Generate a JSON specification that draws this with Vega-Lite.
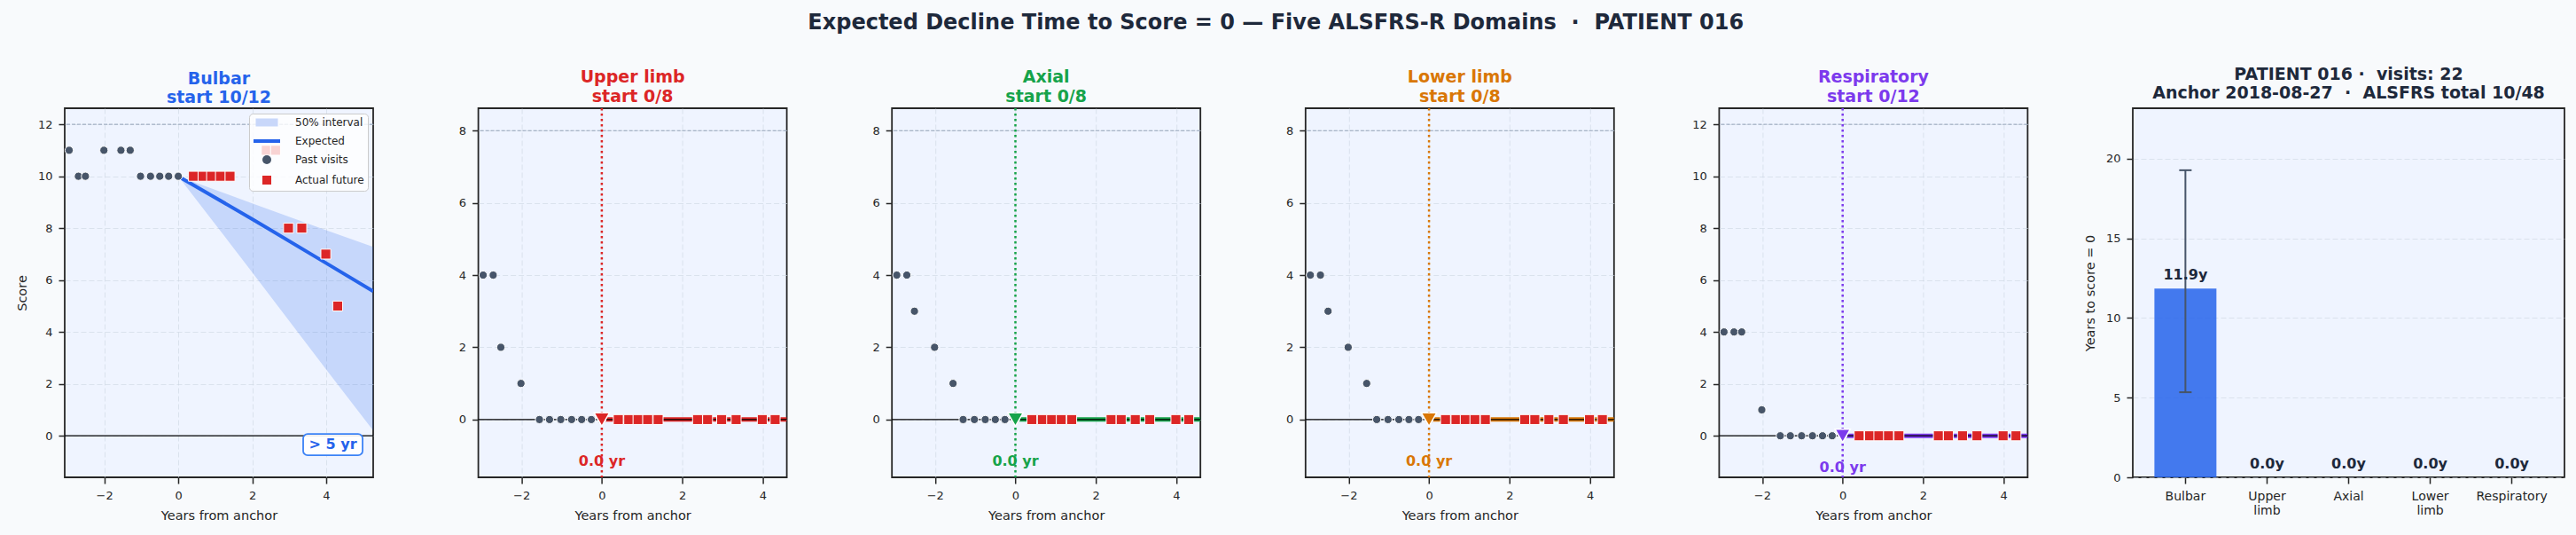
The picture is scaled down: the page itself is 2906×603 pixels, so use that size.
{
  "$schema": "https://vega.github.io/schema/vega-lite/v6.json",
  "background": "#f8fafc",
  "padding": {"left": 16, "top": 14, "right": 15, "bottom": 20},
  "title": {"text": "Expected Decline Time to Score = 0 — Five ALSFRS-R Domains\u00a0 ·\u00a0 PATIENT 016", "fontSize": 24, "fontWeight": "bold", "color": "#1e293b", "anchor": "middle", "offset": 36, "dx": -16, "font": "DejaVu Sans"},
  "datasets": {
    "visits": [
      {"domain": "Bulbar", "t": -2.95, "score": 11, "phase": "past"},
      {"domain": "Bulbar", "t": -2.70, "score": 10, "phase": "past"},
      {"domain": "Bulbar", "t": -2.51, "score": 10, "phase": "past"},
      {"domain": "Bulbar", "t": -2.01, "score": 11, "phase": "past"},
      {"domain": "Bulbar", "t": -1.55, "score": 11, "phase": "past"},
      {"domain": "Bulbar", "t": -1.30, "score": 11, "phase": "past"},
      {"domain": "Bulbar", "t": -1.02, "score": 10, "phase": "past"},
      {"domain": "Bulbar", "t": -0.75, "score": 10, "phase": "past"},
      {"domain": "Bulbar", "t": -0.50, "score": 10, "phase": "past"},
      {"domain": "Bulbar", "t": -0.26, "score": 10, "phase": "past"},
      {"domain": "Bulbar", "t": 0.0, "score": 10, "phase": "past"},
      {"domain": "Bulbar", "t": 0.41, "score": 10, "phase": "future"},
      {"domain": "Bulbar", "t": 0.67, "score": 10, "phase": "future"},
      {"domain": "Bulbar", "t": 0.90, "score": 10, "phase": "future"},
      {"domain": "Bulbar", "t": 1.14, "score": 10, "phase": "future"},
      {"domain": "Bulbar", "t": 1.40, "score": 10, "phase": "future"},
      {"domain": "Bulbar", "t": 2.38, "score": 11, "phase": "future"},
      {"domain": "Bulbar", "t": 2.63, "score": 11, "phase": "future"},
      {"domain": "Bulbar", "t": 2.98, "score": 8, "phase": "future"},
      {"domain": "Bulbar", "t": 3.34, "score": 8, "phase": "future"},
      {"domain": "Bulbar", "t": 3.99, "score": 7, "phase": "future"},
      {"domain": "Bulbar", "t": 4.31, "score": 5, "phase": "future"},

      {"domain": "Upper limb", "t": -2.95, "score": 4, "phase": "past"},
      {"domain": "Upper limb", "t": -2.70, "score": 4, "phase": "past"},
      {"domain": "Upper limb", "t": -2.51, "score": 2, "phase": "past"},
      {"domain": "Upper limb", "t": -2.01, "score": 1, "phase": "past"},
      {"domain": "Upper limb", "t": -1.55, "score": 0, "phase": "past"},
      {"domain": "Upper limb", "t": -1.30, "score": 0, "phase": "past"},
      {"domain": "Upper limb", "t": -1.02, "score": 0, "phase": "past"},
      {"domain": "Upper limb", "t": -0.75, "score": 0, "phase": "past"},
      {"domain": "Upper limb", "t": -0.50, "score": 0, "phase": "past"},
      {"domain": "Upper limb", "t": -0.26, "score": 0, "phase": "past"},
      {"domain": "Upper limb", "t": 0.0, "score": 0, "phase": "past"},
      {"domain": "Upper limb", "t": 0.41, "score": 0, "phase": "future"},
      {"domain": "Upper limb", "t": 0.67, "score": 0, "phase": "future"},
      {"domain": "Upper limb", "t": 0.90, "score": 0, "phase": "future"},
      {"domain": "Upper limb", "t": 1.14, "score": 0, "phase": "future"},
      {"domain": "Upper limb", "t": 1.40, "score": 0, "phase": "future"},
      {"domain": "Upper limb", "t": 2.38, "score": 0, "phase": "future"},
      {"domain": "Upper limb", "t": 2.63, "score": 0, "phase": "future"},
      {"domain": "Upper limb", "t": 2.98, "score": 0, "phase": "future"},
      {"domain": "Upper limb", "t": 3.34, "score": 0, "phase": "future"},
      {"domain": "Upper limb", "t": 3.99, "score": 0, "phase": "future"},
      {"domain": "Upper limb", "t": 4.31, "score": 0, "phase": "future"},

      {"domain": "Axial", "t": -2.95, "score": 4, "phase": "past"},
      {"domain": "Axial", "t": -2.70, "score": 4, "phase": "past"},
      {"domain": "Axial", "t": -2.51, "score": 3, "phase": "past"},
      {"domain": "Axial", "t": -2.01, "score": 2, "phase": "past"},
      {"domain": "Axial", "t": -1.55, "score": 1, "phase": "past"},
      {"domain": "Axial", "t": -1.30, "score": 0, "phase": "past"},
      {"domain": "Axial", "t": -1.02, "score": 0, "phase": "past"},
      {"domain": "Axial", "t": -0.75, "score": 0, "phase": "past"},
      {"domain": "Axial", "t": -0.50, "score": 0, "phase": "past"},
      {"domain": "Axial", "t": -0.26, "score": 0, "phase": "past"},
      {"domain": "Axial", "t": 0.0, "score": 0, "phase": "past"},
      {"domain": "Axial", "t": 0.41, "score": 0, "phase": "future"},
      {"domain": "Axial", "t": 0.67, "score": 0, "phase": "future"},
      {"domain": "Axial", "t": 0.90, "score": 0, "phase": "future"},
      {"domain": "Axial", "t": 1.14, "score": 0, "phase": "future"},
      {"domain": "Axial", "t": 1.40, "score": 0, "phase": "future"},
      {"domain": "Axial", "t": 2.38, "score": 0, "phase": "future"},
      {"domain": "Axial", "t": 2.63, "score": 0, "phase": "future"},
      {"domain": "Axial", "t": 2.98, "score": 0, "phase": "future"},
      {"domain": "Axial", "t": 3.34, "score": 0, "phase": "future"},
      {"domain": "Axial", "t": 3.99, "score": 0, "phase": "future"},
      {"domain": "Axial", "t": 4.31, "score": 0, "phase": "future"},

      {"domain": "Lower limb", "t": -2.95, "score": 4, "phase": "past"},
      {"domain": "Lower limb", "t": -2.70, "score": 4, "phase": "past"},
      {"domain": "Lower limb", "t": -2.51, "score": 3, "phase": "past"},
      {"domain": "Lower limb", "t": -2.01, "score": 2, "phase": "past"},
      {"domain": "Lower limb", "t": -1.55, "score": 1, "phase": "past"},
      {"domain": "Lower limb", "t": -1.30, "score": 0, "phase": "past"},
      {"domain": "Lower limb", "t": -1.02, "score": 0, "phase": "past"},
      {"domain": "Lower limb", "t": -0.75, "score": 0, "phase": "past"},
      {"domain": "Lower limb", "t": -0.50, "score": 0, "phase": "past"},
      {"domain": "Lower limb", "t": -0.26, "score": 0, "phase": "past"},
      {"domain": "Lower limb", "t": 0.0, "score": 0, "phase": "past"},
      {"domain": "Lower limb", "t": 0.41, "score": 0, "phase": "future"},
      {"domain": "Lower limb", "t": 0.67, "score": 0, "phase": "future"},
      {"domain": "Lower limb", "t": 0.90, "score": 0, "phase": "future"},
      {"domain": "Lower limb", "t": 1.14, "score": 0, "phase": "future"},
      {"domain": "Lower limb", "t": 1.40, "score": 0, "phase": "future"},
      {"domain": "Lower limb", "t": 2.38, "score": 0, "phase": "future"},
      {"domain": "Lower limb", "t": 2.63, "score": 0, "phase": "future"},
      {"domain": "Lower limb", "t": 2.98, "score": 0, "phase": "future"},
      {"domain": "Lower limb", "t": 3.34, "score": 0, "phase": "future"},
      {"domain": "Lower limb", "t": 3.99, "score": 0, "phase": "future"},
      {"domain": "Lower limb", "t": 4.31, "score": 0, "phase": "future"},

      {"domain": "Respiratory", "t": -2.95, "score": 4, "phase": "past"},
      {"domain": "Respiratory", "t": -2.70, "score": 4, "phase": "past"},
      {"domain": "Respiratory", "t": -2.51, "score": 4, "phase": "past"},
      {"domain": "Respiratory", "t": -2.01, "score": 1, "phase": "past"},
      {"domain": "Respiratory", "t": -1.55, "score": 0, "phase": "past"},
      {"domain": "Respiratory", "t": -1.30, "score": 0, "phase": "past"},
      {"domain": "Respiratory", "t": -1.02, "score": 0, "phase": "past"},
      {"domain": "Respiratory", "t": -0.75, "score": 0, "phase": "past"},
      {"domain": "Respiratory", "t": -0.50, "score": 0, "phase": "past"},
      {"domain": "Respiratory", "t": -0.26, "score": 0, "phase": "past"},
      {"domain": "Respiratory", "t": 0.0, "score": 0, "phase": "past"},
      {"domain": "Respiratory", "t": 0.41, "score": 0, "phase": "future"},
      {"domain": "Respiratory", "t": 0.67, "score": 0, "phase": "future"},
      {"domain": "Respiratory", "t": 0.90, "score": 0, "phase": "future"},
      {"domain": "Respiratory", "t": 1.14, "score": 0, "phase": "future"},
      {"domain": "Respiratory", "t": 1.40, "score": 0, "phase": "future"},
      {"domain": "Respiratory", "t": 2.38, "score": 0, "phase": "future"},
      {"domain": "Respiratory", "t": 2.63, "score": 0, "phase": "future"},
      {"domain": "Respiratory", "t": 2.98, "score": 0, "phase": "future"},
      {"domain": "Respiratory", "t": 3.34, "score": 0, "phase": "future"},
      {"domain": "Respiratory", "t": 3.99, "score": 0, "phase": "future"},
      {"domain": "Respiratory", "t": 4.31, "score": 0, "phase": "future"}
    ],
    "expected": [
      {"domain": "Bulbar", "t": 0, "mean": 10, "lo": 10, "hi": 10},
      {"domain": "Bulbar", "t": 2, "mean": 8.35, "lo": 6.3, "hi": 8.95},
      {"domain": "Bulbar", "t": 4, "mean": 6.65, "lo": 2.55, "hi": 7.92},
      {"domain": "Bulbar", "t": 5.27, "mean": 5.57, "lo": 0.2, "hi": 7.28},
      {"domain": "Upper limb", "t": 0, "mean": 0},
      {"domain": "Upper limb", "t": 4.6, "mean": 0},
      {"domain": "Axial", "t": 0, "mean": 0},
      {"domain": "Axial", "t": 4.6, "mean": 0},
      {"domain": "Lower limb", "t": 0, "mean": 0},
      {"domain": "Lower limb", "t": 4.6, "mean": 0},
      {"domain": "Respiratory", "t": 0, "mean": 0},
      {"domain": "Respiratory", "t": 4.6, "mean": 0}
    ],
    "summary": [
      {"domain": "Bulbar", "start": 10, "max": 12, "years": 11.85, "lo": 5.34, "hi": 19.27, "tz_label": "> 5 yr", "bar_label": "11.9y"},
      {"domain": "Upper limb", "start": 0, "max": 8, "years": 0, "lo": null, "hi": null, "tz_label": "0.0 yr", "bar_label": "0.0y"},
      {"domain": "Axial", "start": 0, "max": 8, "years": 0, "lo": null, "hi": null, "tz_label": "0.0 yr", "bar_label": "0.0y"},
      {"domain": "Lower limb", "start": 0, "max": 8, "years": 0, "lo": null, "hi": null, "tz_label": "0.0 yr", "bar_label": "0.0y"},
      {"domain": "Respiratory", "start": 0, "max": 12, "years": 0, "lo": null, "hi": null, "tz_label": "0.0 yr", "bar_label": "0.0y"}
    ],
    "legend": [
      {"series": "50% interval"},
      {"series": "Expected"},
      {"series": "Past visits"},
      {"series": "Actual future"}
    ]
  },
  "spacing": 118.6,
  "bounds": "flush",
  "resolve": {"scale": {"color": "independent", "shape": "independent"}, "legend": {"color": "independent", "shape": "independent"}},
  "hconcat": [
    {
      "width": 348, "height": 416,
      "title": {"text": ["Bulbar", "start 10/12"], "color": "#2563eb", "fontSize": 19, "fontWeight": "bold", "lineHeight": 21.5, "baseline": "bottom", "offset": -17, "anchor": "middle"},
      "layer": [
        {"data": {"name": "summary"}, "transform": [{"filter": "datum.domain === 'Bulbar'"}],
         "mark": {"type": "rule", "color": "#94a3b8", "strokeDash": [4, 2], "strokeWidth": 1},
         "encoding": {"y": {"field": "max", "type": "quantitative", "title": "Score", "scale": {"domain": [-1.6, 12.62], "nice": false, "zero": false}, "axis": {"values": [0, 2, 4, 6, 8, 10, 12]}}}},
        {"data": {"name": "summary"}, "transform": [{"filter": "datum.domain === 'Bulbar'"}],
         "mark": {"type": "rule", "color": "#000000", "strokeWidth": 1.2},
         "encoding": {"y": {"datum": 0, "type": "quantitative", "title": "Score"}}},
        {"data": {"name": "expected"}, "transform": [{"filter": "datum.domain === 'Bulbar'"}],
         "mark": {"type": "area", "color": "#2563eb", "opacity": 0.2, "clip": true},
         "encoding": {
           "x": {"field": "t", "type": "quantitative", "title": "Years from anchor", "scale": {"domain": [-3.07, 5.27], "nice": false, "zero": false}, "axis": {"values": [-2, 0, 2, 4]}},
           "y": {"field": "lo", "type": "quantitative", "title": "Score"},
           "y2": {"field": "hi"}}},
        {"data": {"name": "expected"}, "transform": [{"filter": "datum.domain === 'Bulbar'"}],
         "mark": {"type": "line", "color": "#2563eb", "strokeWidth": 4, "clip": true},
         "encoding": {
           "x": {"field": "t", "type": "quantitative", "title": "Years from anchor"},
           "y": {"field": "mean", "type": "quantitative", "title": "Score"}}},
        {"data": {"name": "visits"}, "transform": [{"filter": "datum.domain === 'Bulbar' && datum.phase === 'past'"}],
         "mark": {"type": "point", "shape": "circle", "filled": true, "size": 85, "color": "#475569", "stroke": "white", "strokeWidth": 1, "opacity": 1},
         "encoding": {
           "x": {"field": "t", "type": "quantitative", "title": "Years from anchor"},
           "y": {"field": "score", "type": "quantitative", "title": "Score"}}},
        {"data": {"name": "visits"}, "transform": [{"filter": "datum.domain === 'Bulbar' && datum.phase === 'future'"}],
         "mark": {"type": "point", "shape": "square", "filled": true, "size": 125, "color": "#dc2626", "stroke": "white", "strokeWidth": 1, "opacity": 1},
         "encoding": {
           "x": {"field": "t", "type": "quantitative", "title": "Years from anchor"},
           "y": {"field": "score", "type": "quantitative", "title": "Score"}}},
        {"data": {"name": "summary"}, "transform": [{"filter": "datum.domain === 'Bulbar'"}],
         "mark": {"type": "point", "filled": true, "fill": "white", "fillOpacity": 0.9, "stroke": "#3b82f6", "strokeWidth": 1.8, "size": 4489,
           "shape": "M-0.85,-0.36L0.85,-0.36A0.15,0.15 0 0 1 1,-0.21L1,0.21A0.15,0.15 0 0 1 0.85,0.36L-0.85,0.36A0.15,0.15 0 0 1 -1,0.21L-1,-0.21A0.15,0.15 0 0 1 -0.85,-0.36Z"},
         "encoding": {"x": {"datum": 4.18, "type": "quantitative", "title": "Years from anchor"}, "y": {"datum": -0.34, "type": "quantitative", "title": "Score"}}},
        {"data": {"name": "summary"}, "transform": [{"filter": "datum.domain === 'Bulbar'"}],
         "mark": {"type": "text", "fontWeight": "bold", "fontSize": 16, "color": "#2563eb", "align": "center", "baseline": "middle"},
         "encoding": {"x": {"datum": 4.18, "type": "quantitative", "title": "Years from anchor"}, "y": {"datum": -0.34, "type": "quantitative", "title": "Score"}, "text": {"field": "tz_label"}}},
        {"data": {"name": "legend"},
         "mark": {"type": "point", "filled": true, "opacity": 1, "size": 100, "clip": true},
         "encoding": {
           "x": {"datum": -50, "type": "quantitative", "title": "Years from anchor"},
           "y": {"datum": -50, "type": "quantitative", "title": "Score"},
           "color": {"field": "series", "type": "nominal",
             "scale": {"domain": ["50% interval", "Expected", "Past visits", "Actual future"], "range": ["#c8d7fa", "#2563eb", "#475569", "#dc2626"]},
             "legend": {"title": null, "orient": "top-right", "offset": 6, "padding": 4, "fillColor": "rgba(255,255,255,0.8)", "strokeColor": "#cccccc", "cornerRadius": 4, "labelFontSize": 12, "labelColor": "#262626", "labelFont": "DejaVu Sans", "rowPadding": 7, "symbolSize": 100, "symbolOffset": 10, "labelOffset": 26, "symbolOpacity": 1}},
           "shape": {"field": "series", "type": "nominal",
             "scale": {"domain": ["50% interval", "Expected", "Past visits", "Actual future"], "range": ["M-2.5,-0.9L2.5,-0.9L2.5,0.9L-2.5,0.9Z", "M-3,-0.4L3,-0.4L3,0.4L-3,0.4Z", "circle", "square"]},
             "legend": {"title": null, "orient": "top-right", "offset": 6, "padding": 4, "fillColor": "rgba(255,255,255,0.8)", "strokeColor": "#cccccc", "cornerRadius": 4, "labelFontSize": 12, "labelColor": "#262626", "labelFont": "DejaVu Sans", "rowPadding": 7, "symbolSize": 100, "symbolOffset": 10, "labelOffset": 26, "symbolOpacity": 1}}
         }}
      ]
    },
    {
      "width": 348, "height": 416,
      "title": {"text": ["Upper limb", "start 0/8"], "color": "#dc2626", "fontSize": 19, "fontWeight": "bold", "lineHeight": 21.5, "baseline": "bottom", "offset": -17, "anchor": "middle"},
      "layer": [
        {"data": {"name": "summary"}, "transform": [{"filter": "datum.domain === 'Upper limb'"}],
         "mark": {"type": "rule", "color": "#94a3b8", "strokeDash": [4, 2], "strokeWidth": 1},
         "encoding": {"y": {"field": "max", "type": "quantitative", "title": null, "scale": {"domain": [-1.6, 8.62], "nice": false, "zero": false}, "axis": {"values": [0, 2, 4, 6, 8]}}}},
        {"data": {"name": "expected"}, "transform": [{"filter": "datum.domain === 'Upper limb'"}],
         "mark": {"type": "line", "strokeWidth": 5, "color": "#dc2626", "clip": true},
         "encoding": {"x": {"field": "t", "type": "quantitative", "title": "Years from anchor", "scale": {"domain": [-3.07, 4.6], "nice": false, "zero": false}, "axis": {"values": [-2, 0, 2, 4]}}, "y": {"field": "mean", "type": "quantitative", "title": null}}},
        {"data": {"name": "summary"}, "transform": [{"filter": "datum.domain === 'Upper limb'"}],
         "mark": {"type": "rule", "color": "#000000", "strokeWidth": 1.2},
         "encoding": {"y": {"datum": 0, "type": "quantitative", "title": null}}},
        {"data": {"name": "summary"}, "transform": [{"filter": "datum.domain === 'Upper limb'"}],
         "mark": {"type": "rule", "color": "#dc2626", "strokeDash": [2.5, 3.5], "strokeWidth": 2.5},
         "encoding": {"x": {"field": "years", "type": "quantitative", "title": "Years from anchor"}}},
        {"data": {"name": "visits"}, "transform": [{"filter": "datum.domain === 'Upper limb' && datum.phase === 'past'"}],
         "mark": {"type": "point", "shape": "circle", "filled": true, "size": 85, "color": "#475569", "stroke": "white", "strokeWidth": 1, "opacity": 1},
         "encoding": {"x": {"field": "t", "type": "quantitative", "title": "Years from anchor"}, "y": {"field": "score", "type": "quantitative", "title": null}}},
        {"data": {"name": "visits"}, "transform": [{"filter": "datum.domain === 'Upper limb' && datum.phase === 'future'"}],
         "mark": {"type": "point", "shape": "square", "filled": true, "size": 125, "color": "#dc2626", "stroke": "white", "strokeWidth": 1, "opacity": 1},
         "encoding": {"x": {"field": "t", "type": "quantitative", "title": "Years from anchor"}, "y": {"field": "score", "type": "quantitative", "title": null}}},
        {"data": {"name": "summary"}, "transform": [{"filter": "datum.domain === 'Upper limb'"}],
         "mark": {"type": "point", "shape": "triangle-down", "filled": true, "size": 300, "color": "#dc2626", "stroke": "white", "strokeWidth": 1.5, "opacity": 1},
         "encoding": {"x": {"field": "years", "type": "quantitative", "title": "Years from anchor"}, "y": {"datum": 0, "type": "quantitative", "title": null}}},
        {"data": {"name": "summary"}, "transform": [{"filter": "datum.domain === 'Upper limb'"}],
         "mark": {"type": "text", "fontWeight": "bold", "fontSize": 16, "color": "#dc2626", "align": "center", "baseline": "middle"},
         "encoding": {"x": {"field": "years", "type": "quantitative", "title": "Years from anchor"}, "y": {"datum": -1.17, "type": "quantitative", "title": null}, "text": {"field": "tz_label"}}}
      ]
    },
    {
      "width": 348, "height": 416,
      "title": {"text": ["Axial", "start 0/8"], "color": "#16a34a", "fontSize": 19, "fontWeight": "bold", "lineHeight": 21.5, "baseline": "bottom", "offset": -17, "anchor": "middle"},
      "layer": [
        {"data": {"name": "summary"}, "transform": [{"filter": "datum.domain === 'Axial'"}],
         "mark": {"type": "rule", "color": "#94a3b8", "strokeDash": [4, 2], "strokeWidth": 1},
         "encoding": {"y": {"field": "max", "type": "quantitative", "title": null, "scale": {"domain": [-1.6, 8.62], "nice": false, "zero": false}, "axis": {"values": [0, 2, 4, 6, 8]}}}},
        {"data": {"name": "expected"}, "transform": [{"filter": "datum.domain === 'Axial'"}],
         "mark": {"type": "line", "strokeWidth": 5, "color": "#16a34a", "clip": true},
         "encoding": {"x": {"field": "t", "type": "quantitative", "title": "Years from anchor", "scale": {"domain": [-3.07, 4.6], "nice": false, "zero": false}, "axis": {"values": [-2, 0, 2, 4]}}, "y": {"field": "mean", "type": "quantitative", "title": null}}},
        {"data": {"name": "summary"}, "transform": [{"filter": "datum.domain === 'Axial'"}],
         "mark": {"type": "rule", "color": "#000000", "strokeWidth": 1.2},
         "encoding": {"y": {"datum": 0, "type": "quantitative", "title": null}}},
        {"data": {"name": "summary"}, "transform": [{"filter": "datum.domain === 'Axial'"}],
         "mark": {"type": "rule", "color": "#16a34a", "strokeDash": [2.5, 3.5], "strokeWidth": 2.5},
         "encoding": {"x": {"field": "years", "type": "quantitative", "title": "Years from anchor"}}},
        {"data": {"name": "visits"}, "transform": [{"filter": "datum.domain === 'Axial' && datum.phase === 'past'"}],
         "mark": {"type": "point", "shape": "circle", "filled": true, "size": 85, "color": "#475569", "stroke": "white", "strokeWidth": 1, "opacity": 1},
         "encoding": {"x": {"field": "t", "type": "quantitative", "title": "Years from anchor"}, "y": {"field": "score", "type": "quantitative", "title": null}}},
        {"data": {"name": "visits"}, "transform": [{"filter": "datum.domain === 'Axial' && datum.phase === 'future'"}],
         "mark": {"type": "point", "shape": "square", "filled": true, "size": 125, "color": "#dc2626", "stroke": "white", "strokeWidth": 1, "opacity": 1},
         "encoding": {"x": {"field": "t", "type": "quantitative", "title": "Years from anchor"}, "y": {"field": "score", "type": "quantitative", "title": null}}},
        {"data": {"name": "summary"}, "transform": [{"filter": "datum.domain === 'Axial'"}],
         "mark": {"type": "point", "shape": "triangle-down", "filled": true, "size": 300, "color": "#16a34a", "stroke": "white", "strokeWidth": 1.5, "opacity": 1},
         "encoding": {"x": {"field": "years", "type": "quantitative", "title": "Years from anchor"}, "y": {"datum": 0, "type": "quantitative", "title": null}}},
        {"data": {"name": "summary"}, "transform": [{"filter": "datum.domain === 'Axial'"}],
         "mark": {"type": "text", "fontWeight": "bold", "fontSize": 16, "color": "#16a34a", "align": "center", "baseline": "middle"},
         "encoding": {"x": {"field": "years", "type": "quantitative", "title": "Years from anchor"}, "y": {"datum": -1.17, "type": "quantitative", "title": null}, "text": {"field": "tz_label"}}}
      ]
    },
    {
      "width": 348, "height": 416,
      "title": {"text": ["Lower limb", "start 0/8"], "color": "#d97706", "fontSize": 19, "fontWeight": "bold", "lineHeight": 21.5, "baseline": "bottom", "offset": -17, "anchor": "middle"},
      "layer": [
        {"data": {"name": "summary"}, "transform": [{"filter": "datum.domain === 'Lower limb'"}],
         "mark": {"type": "rule", "color": "#94a3b8", "strokeDash": [4, 2], "strokeWidth": 1},
         "encoding": {"y": {"field": "max", "type": "quantitative", "title": null, "scale": {"domain": [-1.6, 8.62], "nice": false, "zero": false}, "axis": {"values": [0, 2, 4, 6, 8]}}}},
        {"data": {"name": "expected"}, "transform": [{"filter": "datum.domain === 'Lower limb'"}],
         "mark": {"type": "line", "strokeWidth": 5, "color": "#d97706", "clip": true},
         "encoding": {"x": {"field": "t", "type": "quantitative", "title": "Years from anchor", "scale": {"domain": [-3.07, 4.6], "nice": false, "zero": false}, "axis": {"values": [-2, 0, 2, 4]}}, "y": {"field": "mean", "type": "quantitative", "title": null}}},
        {"data": {"name": "summary"}, "transform": [{"filter": "datum.domain === 'Lower limb'"}],
         "mark": {"type": "rule", "color": "#000000", "strokeWidth": 1.2},
         "encoding": {"y": {"datum": 0, "type": "quantitative", "title": null}}},
        {"data": {"name": "summary"}, "transform": [{"filter": "datum.domain === 'Lower limb'"}],
         "mark": {"type": "rule", "color": "#d97706", "strokeDash": [2.5, 3.5], "strokeWidth": 2.5},
         "encoding": {"x": {"field": "years", "type": "quantitative", "title": "Years from anchor"}}},
        {"data": {"name": "visits"}, "transform": [{"filter": "datum.domain === 'Lower limb' && datum.phase === 'past'"}],
         "mark": {"type": "point", "shape": "circle", "filled": true, "size": 85, "color": "#475569", "stroke": "white", "strokeWidth": 1, "opacity": 1},
         "encoding": {"x": {"field": "t", "type": "quantitative", "title": "Years from anchor"}, "y": {"field": "score", "type": "quantitative", "title": null}}},
        {"data": {"name": "visits"}, "transform": [{"filter": "datum.domain === 'Lower limb' && datum.phase === 'future'"}],
         "mark": {"type": "point", "shape": "square", "filled": true, "size": 125, "color": "#dc2626", "stroke": "white", "strokeWidth": 1, "opacity": 1},
         "encoding": {"x": {"field": "t", "type": "quantitative", "title": "Years from anchor"}, "y": {"field": "score", "type": "quantitative", "title": null}}},
        {"data": {"name": "summary"}, "transform": [{"filter": "datum.domain === 'Lower limb'"}],
         "mark": {"type": "point", "shape": "triangle-down", "filled": true, "size": 300, "color": "#d97706", "stroke": "white", "strokeWidth": 1.5, "opacity": 1},
         "encoding": {"x": {"field": "years", "type": "quantitative", "title": "Years from anchor"}, "y": {"datum": 0, "type": "quantitative", "title": null}}},
        {"data": {"name": "summary"}, "transform": [{"filter": "datum.domain === 'Lower limb'"}],
         "mark": {"type": "text", "fontWeight": "bold", "fontSize": 16, "color": "#d97706", "align": "center", "baseline": "middle"},
         "encoding": {"x": {"field": "years", "type": "quantitative", "title": "Years from anchor"}, "y": {"datum": -1.17, "type": "quantitative", "title": null}, "text": {"field": "tz_label"}}}
      ]
    },
    {
      "width": 348, "height": 416,
      "title": {"text": ["Respiratory", "start 0/12"], "color": "#7c3aed", "fontSize": 19, "fontWeight": "bold", "lineHeight": 21.5, "baseline": "bottom", "offset": -17, "anchor": "middle"},
      "layer": [
        {"data": {"name": "summary"}, "transform": [{"filter": "datum.domain === 'Respiratory'"}],
         "mark": {"type": "rule", "color": "#94a3b8", "strokeDash": [4, 2], "strokeWidth": 1},
         "encoding": {"y": {"field": "max", "type": "quantitative", "title": null, "scale": {"domain": [-1.6, 12.62], "nice": false, "zero": false}, "axis": {"values": [0, 2, 4, 6, 8, 10, 12]}}}},
        {"data": {"name": "expected"}, "transform": [{"filter": "datum.domain === 'Respiratory'"}],
         "mark": {"type": "line", "strokeWidth": 5, "color": "#7c3aed", "clip": true},
         "encoding": {"x": {"field": "t", "type": "quantitative", "title": "Years from anchor", "scale": {"domain": [-3.07, 4.6], "nice": false, "zero": false}, "axis": {"values": [-2, 0, 2, 4]}}, "y": {"field": "mean", "type": "quantitative", "title": null}}},
        {"data": {"name": "summary"}, "transform": [{"filter": "datum.domain === 'Respiratory'"}],
         "mark": {"type": "rule", "color": "#000000", "strokeWidth": 1.2},
         "encoding": {"y": {"datum": 0, "type": "quantitative", "title": null}}},
        {"data": {"name": "summary"}, "transform": [{"filter": "datum.domain === 'Respiratory'"}],
         "mark": {"type": "rule", "color": "#7c3aed", "strokeDash": [2.5, 3.5], "strokeWidth": 2.5},
         "encoding": {"x": {"field": "years", "type": "quantitative", "title": "Years from anchor"}}},
        {"data": {"name": "visits"}, "transform": [{"filter": "datum.domain === 'Respiratory' && datum.phase === 'past'"}],
         "mark": {"type": "point", "shape": "circle", "filled": true, "size": 85, "color": "#475569", "stroke": "white", "strokeWidth": 1, "opacity": 1},
         "encoding": {"x": {"field": "t", "type": "quantitative", "title": "Years from anchor"}, "y": {"field": "score", "type": "quantitative", "title": null}}},
        {"data": {"name": "visits"}, "transform": [{"filter": "datum.domain === 'Respiratory' && datum.phase === 'future'"}],
         "mark": {"type": "point", "shape": "square", "filled": true, "size": 125, "color": "#dc2626", "stroke": "white", "strokeWidth": 1, "opacity": 1},
         "encoding": {"x": {"field": "t", "type": "quantitative", "title": "Years from anchor"}, "y": {"field": "score", "type": "quantitative", "title": null}}},
        {"data": {"name": "summary"}, "transform": [{"filter": "datum.domain === 'Respiratory'"}],
         "mark": {"type": "point", "shape": "triangle-down", "filled": true, "size": 300, "color": "#7c3aed", "stroke": "white", "strokeWidth": 1.5, "opacity": 1},
         "encoding": {"x": {"field": "years", "type": "quantitative", "title": "Years from anchor"}, "y": {"datum": 0, "type": "quantitative", "title": null}}},
        {"data": {"name": "summary"}, "transform": [{"filter": "datum.domain === 'Respiratory'"}],
         "mark": {"type": "text", "fontWeight": "bold", "fontSize": 16, "color": "#7c3aed", "align": "center", "baseline": "middle"},
         "encoding": {"x": {"field": "years", "type": "quantitative", "title": "Years from anchor"}, "y": {"datum": -1.23, "type": "quantitative", "title": null}, "text": {"field": "tz_label"}}}
      ]
    },
    {
      "width": 487, "height": 416,
      "title": {"text": ["PATIENT 016 ·\u00a0 visits: 22", "Anchor 2018-08-27\u00a0 ·\u00a0 ALSFRS total 10/48"], "color": "#1e293b", "fontSize": 19, "fontWeight": "bold", "lineHeight": 21, "baseline": "bottom", "offset": -12, "anchor": "middle"},
      "data": {"name": "summary"},
      "layer": [
        {"mark": {"type": "bar", "color": "#2563eb", "opacity": 0.85},
         "encoding": {
           "x": {"field": "domain", "type": "nominal", "sort": null, "title": null, "scale": {"paddingInner": 0.24, "paddingOuter": 0.265}, "axis": {"labelAngle": 0, "labelExpr": "split(datum.label, ' ')", "labelFontSize": 14, "labelLineHeight": 16.6, "grid": false}},
           "y": {"field": "years", "type": "quantitative", "title": "Years to score = 0", "scale": {"domain": [0, 23.16], "nice": false}, "axis": {"values": [0, 5, 10, 15, 20]}}}},
        {"transform": [{"filter": "isValid(datum.lo)"}],
         "mark": {"type": "rule", "color": "#475569", "strokeWidth": 2},
         "encoding": {"x": {"field": "domain", "type": "nominal", "sort": null, "title": null}, "y": {"field": "lo", "type": "quantitative", "title": "Years to score = 0"}, "y2": {"field": "hi"}}},
        {"transform": [{"filter": "isValid(datum.lo)"}],
         "mark": {"type": "tick", "color": "#475569", "thickness": 2, "size": 14, "opacity": 1},
         "encoding": {"x": {"field": "domain", "type": "nominal", "sort": null, "title": null}, "y": {"field": "lo", "type": "quantitative", "title": "Years to score = 0"}}},
        {"transform": [{"filter": "isValid(datum.hi)"}],
         "mark": {"type": "tick", "color": "#475569", "thickness": 2, "size": 14, "opacity": 1},
         "encoding": {"x": {"field": "domain", "type": "nominal", "sort": null, "title": null}, "y": {"field": "hi", "type": "quantitative", "title": "Years to score = 0"}}},
        {"mark": {"type": "text", "fontWeight": "bold", "fontSize": 16, "color": "#1e293b", "align": "center", "baseline": "alphabetic", "dy": -10},
         "encoding": {"x": {"field": "domain", "type": "nominal", "sort": null, "title": null}, "y": {"field": "years", "type": "quantitative", "title": "Years to score = 0"}, "text": {"field": "bar_label"}}}
      ]
    }
  ],
  "config": {
    "font": "DejaVu Sans",
    "view": {"fill": "#eff4ff", "stroke": "#262626", "strokeWidth": 1.8},
    "axis": {"domain": false, "gridColor": "#cbd5e1", "gridOpacity": 0.6, "gridDash": [6, 3], "gridWidth": 1, "tickColor": "#262626", "tickSize": 7, "tickWidth": 1.5, "labelColor": "#262626", "labelFontSize": 13, "labelFont": "DejaVu Sans", "titleColor": "#262626", "titleFontSize": 14.5, "titleFontWeight": "normal", "titleFont": "DejaVu Sans"},
    "axisX": {"labelPadding": 7, "titlePadding": 9},
    "axisY": {"labelPadding": 7, "titlePadding": 10}
  }
}
